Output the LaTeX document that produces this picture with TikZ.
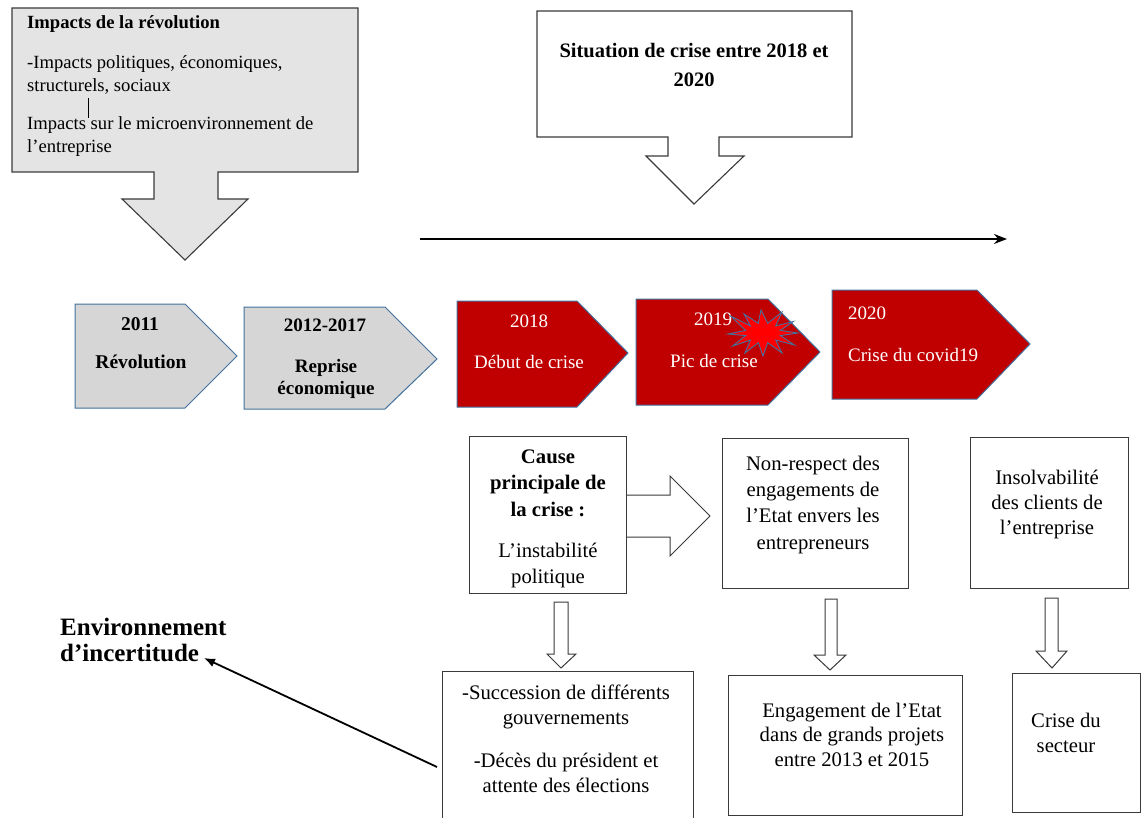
\documentclass[tikz,border=0pt]{standalone}
\usepackage{fontspec}
\setmainfont{Liberation Serif}
\usetikzlibrary{arrows.meta}
\definecolor{calloutgray}{HTML}{E4E4E4}
\definecolor{chevgray}{HTML}{D6D6D6}
\definecolor{chevred}{HTML}{C00000}
\definecolor{chevblue}{HTML}{41719C}
\definecolor{edge}{HTML}{3A3A3A}
\newcommand\fsz[2]{\fontsize{#1}{#2}\selectfont}
\begin{document}
\begin{tikzpicture}[x=1pt,y=-1pt,
  callout/.style={draw=edge, line width=1.1pt, line join=miter},
  chev/.style={draw=chevblue, line width=1pt, line join=miter},
  boxst/.style={draw=edge, line width=1pt, fill=white},
  blockarrow/.style={draw=edge, line width=1pt, fill=white, line join=miter},
  txt/.style={inner sep=0pt, align=center},
  ltxt/.style={inner sep=0pt, align=left},
  chevtxt/.style={inner sep=0pt, font=\fsz{19}{22}},
  link/.style={draw=black, line width=1.8pt, -{Latex[length=11pt,width=9pt]}}
]
\useasboundingbox (0,0) rectangle (1142,818);

% ---- top-left callout
\draw[callout, fill=calloutgray] (12,8) -- (358,8) -- (358,172) -- (218,172) -- (218,199)
  -- (248,199) -- (185,260) -- (122,199) -- (154,199) -- (154,172) -- (12,172) -- cycle;
\node[ltxt, anchor=north west, font=\fsz{18.6}{22}\bfseries] (imp1) at (27,15.5) {Impacts de la révolution};
\node[ltxt, anchor=north west, font=\fsz{18.6}{22.5}] (imp2) at (27,55.5) {-Impacts politiques, économiques,\\structurels, sociaux};
\node[ltxt, anchor=north west, font=\fsz{18.6}{23}] (imp3) at (27,116.5) {Impacts sur le microenvironnement de\\l’entreprise};
\draw[black, line width=0.7pt] (88,98) -- (88,118);

% ---- top-middle callout
\draw[callout, fill=white] (537,11) -- (852,11) -- (852,137) -- (719,137) -- (719,156)
  -- (744,156) -- (694,204) -- (646,156) -- (668,156) -- (668,137) -- (537,137) -- cycle;
\node[txt, anchor=north, font=\fsz{20.5}{29}\bfseries] (sit) at (694,43) {Situation de crise entre 2018 et\\2020};

% ---- timeline arrow
\coordinate (t0) at (420,239);
\coordinate (t1) at (1007,239);
\draw[line width=2pt, -{Stealth[length=13pt,width=10pt]}] (t0) -- (t1);

% ---- chevrons
\draw[chev, fill=chevgray] (75,304) -- (185,304) -- (237,356) -- (185,408) -- (75,408) -- cycle;
\draw[chev, fill=chevgray] (244,307) -- (385,307) -- (437,359) -- (385,409) -- (244,409) -- cycle;
\draw[chev, fill=chevred] (457,301) -- (577,301) -- (628,353) -- (577,407) -- (457,407) -- cycle;
\draw[chev, fill=chevred] (636,299) -- (768,299) -- (820,352) -- (768,405) -- (636,405) -- cycle;
\draw[chev, fill=chevred] (832,290) -- (977,290) -- (1030,344) -- (977,399) -- (832,399) -- cycle;

\node[chevtxt, anchor=base, font=\fsz{19.5}{22}\bfseries] (y2011) at (140,330.5) {2011};
\node[chevtxt, anchor=base, font=\fsz{19.5}{22}\bfseries] (rev) at (141,368.5) {Révolution};
\node[chevtxt, anchor=base, font=\fsz{19}{22}\bfseries] (y2012) at (325,331.5) {2012-2017};
\node[txt, anchor=north, font=\fsz{19}{22}\bfseries] (rep) at (326,359) {Reprise\\économique};
\node[chevtxt, anchor=base, text=white] (y2018) at (529,327.5) {2018};
\node[chevtxt, anchor=base, text=white] (deb) at (529,368.5) {Début de crise};
\node[chevtxt, anchor=base, text=white] (y2019) at (713,325.5) {2019};
\node[chevtxt, anchor=base, text=white] (pic) at (714,367.5) {Pic de crise};
\node[chevtxt, anchor=base west, text=white] (y2020) at (848,319.5) {2020};
\node[chevtxt, anchor=base west, text=white] (cov) at (848,361.5) {Crise du covid19};

% starburst
\draw[draw=chevblue, line width=0.9pt, fill=red, line join=miter]
  (798,333) -- (780.4,330.4) -- (793.4,321.5) -- (775.7,325.9) -- (782,312) -- (767.7,323.3)
  -- (761,310) -- (758.3,323.3) -- (744,314) -- (750.3,325.9) -- (730.6,316) -- (745.6,330.4)
  -- (728,334) -- (745.6,335.6) -- (732.6,346) -- (750.3,340.1) -- (745,353) -- (758.3,342.7)
  -- (763,356) -- (767.7,342.7) -- (782,353) -- (775.7,340.1) -- (794.4,345) -- (780.4,335.6) -- cycle;

% ---- middle row boxes
\node[boxst, minimum width=157pt, minimum height=157pt] (cause) at (548,515) {};
\node[txt, anchor=north, font=\fsz{20.7}{26.3}\bfseries] (causet) at (548,449.7) {Cause\\principale de\\la crise~:};
\node[txt, anchor=north, font=\fsz{20.7}{26.5}] (instab) at (548,542.7) {L’instabilité\\politique};

\node[boxst, minimum width=186pt, minimum height=150pt] (nonr) at (815,513.5) {};
\node[txt, anchor=north, font=\fsz{20.7}{26.3}] (nonrt) at (813,455.7) {Non-respect des\\engagements de\\l’Etat envers les\\entrepreneurs};

\node[boxst, minimum width=158pt, minimum height=151pt] (insolv) at (1049,512.5) {};
\node[txt, anchor=north, font=\fsz{20.7}{25}] (insolvt) at (1047,469.7) {Insolvabilité\\des clients de\\l’entreprise};

% right block arrow
\draw[blockarrow] (cause.east |- 0,495) -- (670,495) -- (670,476) -- (710,516) -- (670,556) -- (670,537) -- (cause.east |- 0,537);

% down block arrows
\draw[blockarrow] (554,602) -- (568,602) -- (568,654) -- (576,654) -- (561,668) -- (547,654) -- (554,654) -- cycle;
\draw[blockarrow] (825,599) -- (837,599) -- (837,655) -- (846,655) -- (830,670) -- (814,655) -- (825,655) -- cycle;
\draw[blockarrow] (1045,598) -- (1058,598) -- (1058,651) -- (1067,651) -- (1052,668) -- (1036,651) -- (1045,651) -- cycle;

% ---- bottom row boxes
\node[boxst, minimum width=251pt, minimum height=160pt] (succ) at (567.5,751) {};
\node[txt, anchor=north, font=\fsz{20.7}{25}] (succt1) at (566,684.7) {-Succession de différents\\gouvernements};
\node[txt, anchor=north, font=\fsz{20.7}{25}] (succt2) at (566,752.7) {-Décès du président et\\attente des élections};

\node[boxst, minimum width=234pt, minimum height=140pt] (engag) at (845,745) {};
\node[txt, anchor=north, font=\fsz{20.7}{24.5}] (engagt) at (852,702.7) {Engagement de l’Etat\\dans de grands projets\\entre 2013 et 2015};

\node[boxst, minimum width=128pt, minimum height=139pt] (sect) at (1076,742.5) {};
\node[txt, anchor=north, font=\fsz{20.7}{25}] (sectt) at (1066,712.7) {Crise du\\secteur};

% ---- environment label and link
\node[ltxt, anchor=north west, font=\fsz{25}{25.5}\bfseries] (env) at (60,618.2) {Environnement\\d’incertitude};
\coordinate (envpt) at (204,658);
\coordinate (succpt) at (437,767);
\draw[link] (succpt) -- (envpt);
\end{tikzpicture}
\end{document}
